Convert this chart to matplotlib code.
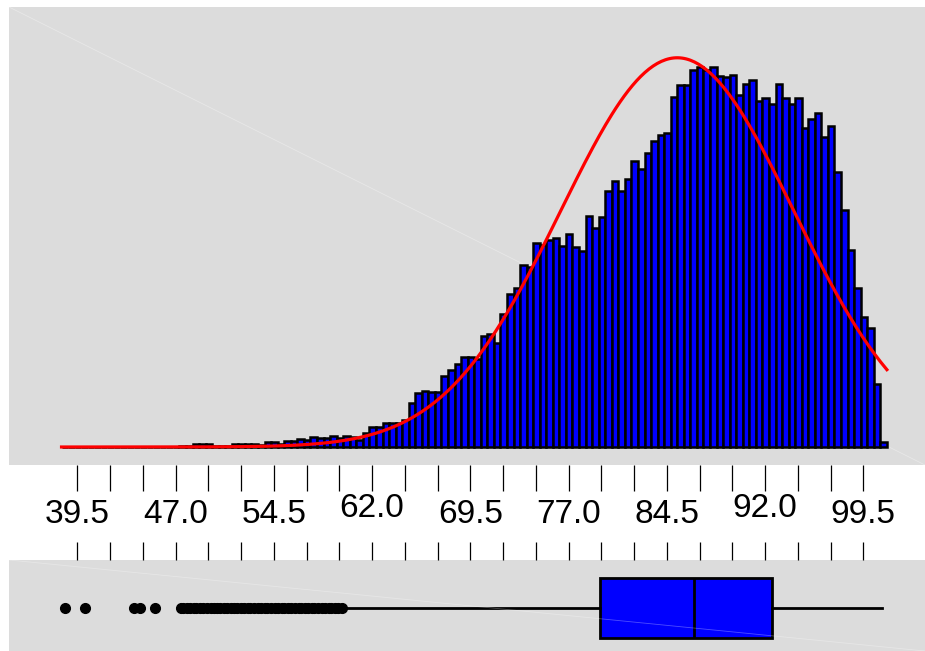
import numpy as np
import matplotlib
matplotlib.use("Agg")
import matplotlib.pyplot as plt

plt.rcParams['font.family'] = ['Liberation Sans', 'DejaVu Sans']

# histogram counts, bins of 0.5 starting at 38.3
bin_start = 38.3
bin_width = 0.5
counts = [
    2, 1, 0, 2, 0, 0, 1, 0, 0, 1,
    0, 2, 2, 1, 3, 2, 4, 5, 8, 12,
    28, 30, 26, 10, 8, 12, 30, 28, 30, 26,
    18, 48, 52, 30, 60, 62, 76, 72, 98, 95,
    87, 110, 90, 110, 97, 70, 143, 197, 197, 243,
    237, 237, 270, 437, 537, 563, 547, 547, 713, 770,
    830, 897, 905, 877, 1110, 1130, 1043, 1330, 1527, 1587,
    1820, 1803, 2043, 2020, 2070, 2087, 2010, 2130, 1997, 1963,
    2310, 2187, 2303, 2560, 2663, 2560, 2680, 2860, 2780, 2943,
    3060, 3120, 3137, 3503, 3620, 3620, 3770, 3797, 3770, 3797,
    3713, 3703, 3720, 3520, 3630, 3670, 3463, 3490, 3430, 3630,
    3490, 3430, 3490, 3193, 3280, 3340, 3103, 3210, 2750, 2370,
    1970, 1590, 1303, 1190, 630, 50,
]

# fitted normal
mu = 85.3
sigma = 8.9
data_min = 38.3
data_max = 101.3

# boxplot summary
box_q1 = 79.4
box_med = 86.6
box_q3 = 92.55
whisk_lo = 59.9
whisk_hi = 100.9
outliers = [38.6, 40.1, 43.8, 44.3, 45.4,
            47.4, 47.6, 47.9, 48.1, 48.4, 48.6, 48.9, 49.1, 49.4, 49.7,
            49.9, 50.2, 50.4, 50.7, 50.9, 51.2, 51.5, 51.7, 52.0, 52.2,
            52.5, 52.7, 53.0, 53.3, 53.5, 53.8, 54.0, 54.3, 54.6, 54.8,
            55.1, 55.3, 55.6, 55.8, 56.1, 56.4, 56.6, 56.9, 57.1, 57.4,
            57.6, 57.9, 58.2, 58.4, 58.7, 58.9, 59.2, 59.4, 59.7]

tick_values = np.arange(39.5, 99.6, 2.5)
label_values = [39.5, 47.0, 54.5, 62.0, 69.5, 77.0, 84.5, 92.0, 99.5]
label_raise = {62.0: 1, 92.0: 1}

bg = '#dcdcdc'
xlim = (34.29, 104.21)
W, H = 925, 651

fig = plt.figure(figsize=(9.25, 6.51), dpi=100)

ax = fig.add_axes([9 / W, 1 - 465 / H, 916 / W, 458 / H])
ax_mid = fig.add_axes([9 / W, 1 - 560 / H, 916 / W, 95 / H])
ax_box = fig.add_axes([9 / W, 0, 916 / W, 91 / H])

# histogram
lefts = bin_start + bin_width * np.arange(len(counts))
ax.bar(lefts, counts, width=bin_width, align='edge', color='#0000ff',
       edgecolor='black', linewidth=1.8, zorder=2)

xs = np.linspace(data_min, data_max, 400)
scale = sum(counts) * bin_width
ys = scale / (sigma * np.sqrt(2 * np.pi)) * np.exp(-0.5 * ((xs - mu) / sigma) ** 2)
ax.plot(xs, ys, color='red', linewidth=2.3, zorder=5)

ax.set_facecolor(bg)
ax.set_xlim(xlim)
ax.set_ylim(-180, 4400)
ax.set_yticks([])
ax.set_xticks(tick_values)
ax.tick_params(axis='x', direction='out', length=19, width=0.9,
               labelbottom=False, color='black')
for s in ax.spines.values():
    s.set_visible(False)
ax.plot([0, 1], [1, 0], transform=ax.transAxes, color='white', alpha=0.35,
        linewidth=0.6, zorder=1)

# tick labels
ax_mid.set_xlim(xlim)
ax_mid.set_ylim(0, 1)
ax_mid.axis('off')
for v in label_values:
    y = 0.484 + 0.063 * label_raise.get(v, 0)
    ax_mid.text(v, y, f'{v:.1f}', ha='center', va='center', fontsize=24)

# boxplot
stats = [dict(whislo=whisk_lo, q1=box_q1, med=box_med, q3=box_q3,
              whishi=whisk_hi, fliers=outliers)]
ax_box.bxp(stats, positions=[0.4725], widths=0.659, vert=False,
           patch_artist=True, showcaps=False,
           boxprops=dict(facecolor='#0000ff', edgecolor='black', linewidth=2.0),
           medianprops=dict(color='black', linewidth=2.0),
           whiskerprops=dict(color='black', linewidth=2.0),
           flierprops=dict(marker='o', markerfacecolor='black',
                           markeredgecolor='black', markersize=7))
ax_box.set_facecolor(bg)
ax_box.set_xlim(xlim)
ax_box.set_ylim(0, 1)
ax_box.set_yticks([])
ax_box.xaxis.tick_top()
ax_box.set_xticks(tick_values)
ax_box.tick_params(axis='x', direction='out', length=13, width=0.9,
                   labeltop=False, color='black')
for s in ax_box.spines.values():
    s.set_visible(False)
ax_box.plot([0, 1], [1, 0], transform=ax_box.transAxes, color='white',
            alpha=0.3, linewidth=0.6, zorder=10)

fig.savefig('out.png', dpi=100)
